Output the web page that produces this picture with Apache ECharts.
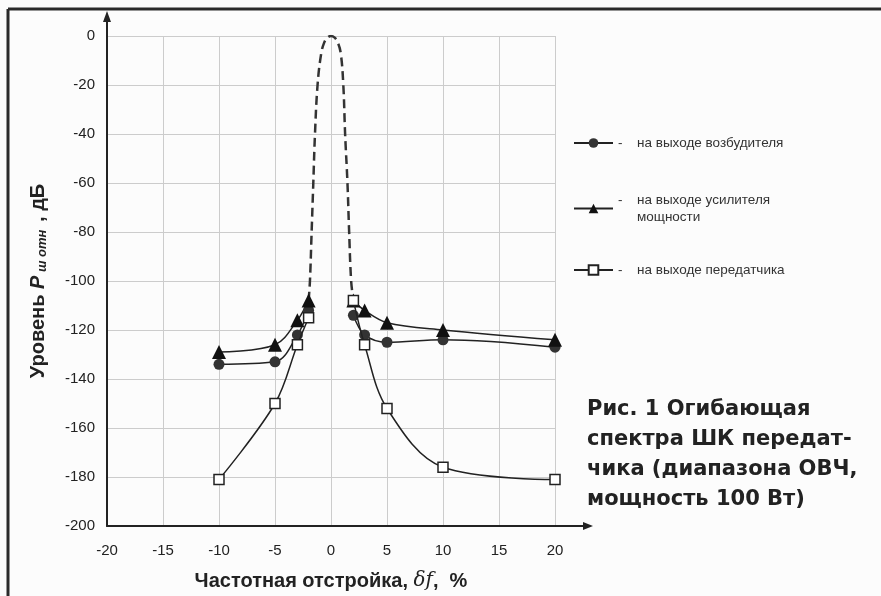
<!DOCTYPE html>
<html>
<head>
<meta charset="utf-8">
<script src="https://cdn.jsdelivr.net/npm/echarts@6/dist/echarts.min.js"></script>
<style>
  html, body { margin: 0; padding: 0; background: #fcfcfc; }
  #chart { width: 881px; height: 596px; }
</style>
</head>
<body>
<div id="chart"></div>
<script>
// частотная отстройка, % (в нуле — разрыв, там несущая)
const offsets = [-10, -5, -3, -2, 0, 2, 3, 5, 10, 20]
// уровни, дБ
const exciter = [-134, -133, -122, -112, null, -114, -122, -125, -124, -127]
const amplifier = [-129, -126, -116, -108, null, -108, -112, -117, -120, -124]
const transmitter = [-181, -150, -126, -115, null, -108, -126, -152, -176, -181]

// несущая (пунктир)
const peakX = [-2, -1.88, -1.73, -1.58, -1.43, -1.2, -0.87, -0.6, -0.33, 0, 0.33, 0.6, 0.87, 1.1, 1.26, 1.47, 1.62, 1.8, 2]
const peakY = [-108, -100, -80, -60, -40, -20, -7, -2.6, -0.7, 0, -0.7, -2.6, -7, -20, -40, -60, -80, -100, -108]

const xTicks = [-20, 20, 5]
const yTicks = [-200, 0, 20]

const names = ['на выходе возбудителя', 'на выходе усилителя мощности', 'на выходе передатчика']
const FONT = '"Liberation Sans", Arial, sans-serif'
const INK = '#222'

const pairs = (xs, ys) => xs.map((x, i) => [x, ys[i] == null ? '-' : ys[i]])

function legendFor(name, top) {
  return {
    left: 573,
    top: top,
    padding: 0,
    itemWidth: 39,
    itemHeight: 12,
    itemGap: 0,
    selectedMode: false,
    data: [name],
    textStyle: {
      fontFamily: FONT,
      fontSize: 13.5,
      color: '#333',
      rich: {
        d: { width: 19, fontSize: 13.5, color: '#333' },
        t: { fontSize: 13.5, color: '#333', lineHeight: 17 }
      }
    },
    formatter: n => n === names[1]
      ? '{d|-}{t|на выходе усилителя}\n{d| }{t|мощности}'
      : '{d|-}{t|' + n + '}'
  }
}

const chart = echarts.init(document.getElementById('chart'))

const option = {
  backgroundColor: '#fcfcfc',
  animation: false,
  textStyle: { fontFamily: FONT },
  title: {
    text: 'Рис. 1 Огибающая\nспектра ШК передат-\nчика (диапазона ОВЧ,\nмощность 100 Вт)',
    left: 587,
    top: 395,
    padding: 0,
    textStyle: { fontFamily: '"DejaVu Sans", sans-serif', fontSize: 21, fontWeight: 'bold', color: INK, lineHeight: 30 }
  },
  legend: [legendFor(names[0], 136), legendFor(names[1], 193), legendFor(names[2], 263)],
  grid: { left: 107, right: 326, top: 36, bottom: 69 },
  xAxis: {
    type: 'value',
    min: xTicks[0], max: xTicks[1], interval: xTicks[2],
    name: '{b|Частотная отстройка, }{i|δf}{b|,  %}',
    nameLocation: 'middle',
    nameGap: 45,
    nameTextStyle: {
      rich: {
        b: { fontFamily: FONT, fontSize: 20, fontWeight: 'bold', color: INK },
        i: { fontFamily: '"DejaVu Serif", serif', fontSize: 20, fontStyle: 'italic', color: INK }
      }
    },
    axisLine: { onZero: false, lineStyle: { color: INK, width: 2 } },
    axisTick: { show: false },
    axisLabel: { fontSize: 15, color: INK, margin: 17 },
    splitLine: { show: true, lineStyle: { color: '#cccccc', width: 1 } }
  },
  yAxis: {
    type: 'value',
    min: yTicks[0], max: yTicks[1], interval: yTicks[2],
    name: '{b|Уровень }{p|P}{s| ш отн}{b| , дБ}',
    nameLocation: 'middle',
    nameRotate: 90,
    nameGap: 58,
    nameTextStyle: {
      rich: {
        b: { fontFamily: FONT, fontSize: 20, fontWeight: 'bold', color: INK },
        p: { fontFamily: FONT, fontSize: 20, fontWeight: 'bold', fontStyle: 'italic', color: INK },
        s: { fontFamily: FONT, fontSize: 13, fontWeight: 'bold', fontStyle: 'italic', color: INK, padding: [8, 2, 0, 0] }
      }
    },
    axisLine: { show: true, onZero: false, lineStyle: { color: INK, width: 2 } },
    axisTick: { show: false },
    axisLabel: { fontSize: 15, color: INK, margin: 12 },
    splitLine: { show: true, lineStyle: { color: '#cccccc', width: 1 } }
  },
  series: [
    {
      name: 'carrier',
      type: 'line',
      data: pairs(peakX, peakY),
      smooth: 0.4,
      showSymbol: false,
      z: 1,
      lineStyle: { color: '#333', width: 2.5, type: [9, 5] }
    },
    {
      name: names[0],
      type: 'line',
      data: pairs(offsets, exciter),
      smooth: 0.35,
      symbol: 'circle',
      symbolSize: 11,
      z: 3,
      lineStyle: { color: INK, width: 1.5 },
      itemStyle: { color: '#333' }
    },
    {
      name: names[1],
      type: 'line',
      data: pairs(offsets, amplifier),
      smooth: 0.35,
      symbol: 'triangle',
      symbolSize: 14,
      z: 3,
      lineStyle: { color: INK, width: 1.5 },
      itemStyle: { color: '#111' }
    },
    {
      name: names[2],
      type: 'line',
      data: pairs(offsets, transmitter),
      smooth: 0.35,
      symbol: 'rect',
      symbolSize: 10,
      z: 4,
      lineStyle: { color: INK, width: 1.5 },
      itemStyle: { color: '#fff', borderColor: INK, borderWidth: 1.5 }
    }
  ]
}

chart.setOption(option)

// стрелки осей и рамка
const [ax, ay] = chart.convertToPixel({ gridIndex: 0 }, [xTicks[0], yTicks[1]])
const [bx, by] = chart.convertToPixel({ gridIndex: 0 }, [xTicks[1], yTicks[0]])
chart.setOption({
  graphic: [
    { type: 'line', shape: { x1: 8, y1: 9, x2: 881, y2: 9 }, style: { stroke: '#2a2a2a', lineWidth: 3 } },
    { type: 'line', shape: { x1: 8, y1: 9, x2: 8, y2: 596 }, style: { stroke: '#2a2a2a', lineWidth: 3 } },
    { type: 'line', shape: { x1: ax, y1: ay, x2: ax, y2: ay - 16 }, style: { stroke: INK, lineWidth: 2 } },
    { type: 'polygon', shape: { points: [[ax - 4, ay - 14], [ax + 4, ay - 14], [ax, ay - 25]] }, style: { fill: INK } },
    { type: 'line', shape: { x1: bx, y1: by, x2: bx + 30, y2: by }, style: { stroke: INK, lineWidth: 2 } },
    { type: 'polygon', shape: { points: [[bx + 28, by - 4], [bx + 28, by + 4], [bx + 38, by]] }, style: { fill: INK } }
  ]
})
</script>
</body>
</html>
